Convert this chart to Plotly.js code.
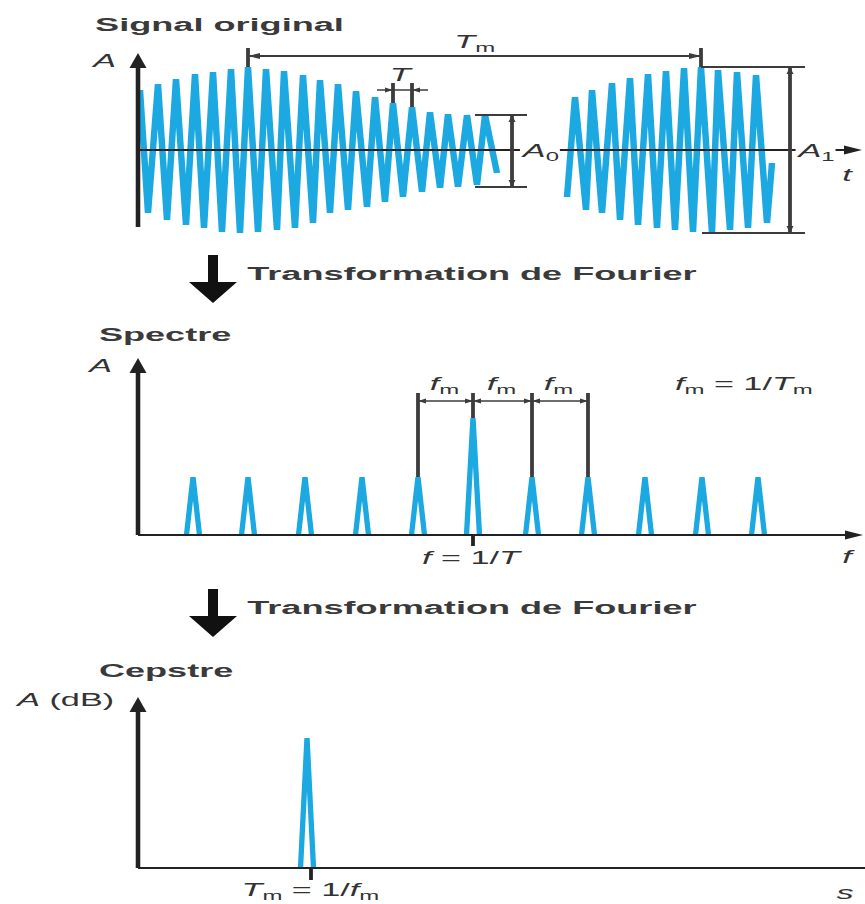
<!DOCTYPE html>
<html><head><meta charset="utf-8">
<script src="https://cdn.plot.ly/plotly-3.0.1.min.js"></script>
<style>
html,body{margin:0;padding:0;background:#fff;overflow:hidden;}
#wrap{width:865px;height:904px;overflow:hidden;}
#plot{width:455px;height:904px;transform:scaleX(1.9011);transform-origin:0 0;}
</style></head><body><div id="wrap"><div id="plot"></div></div>
<script>
// ---------- DATA ----------
// Signal original : zig-zag vertices of the two bursts (time, amplitude)
const burst1T = [2,10,20,29,38,48,57,66,75,84,93,102,110,120,128,139,146,157,165,175,182,192,200,210,218,229,237,247,255,265,274,284,292,302,310,320,329,339,347,359];
const burst1A = [60,-63,66,-70,71,-75,76,-78,78,-82,81,-83,83,-82,81,-80,79,-78,75,-73,70,-63,66,-60,59,-57,53,-52,47,-47,43,-42,38,-38,36,-37,35,-35,35,-23];
const burst2T = [429,437,448,454,464,474,482,492,500,510,519,528,537,546,555,563,574,580,592,599,610,618,629,634];
const burst2A = [-47,53,-60,60,-63,67,-70,72,-75,76,-78,79,-80,82,-82,83,-83,80,-80,78,-78,75,-73,-13];
// Spectre : line frequencies and amplitudes
const specF = [55,110,167,224,280,335,394,450,507,564,620];
const specA = [58,58,58,58,58,117,58,58,58,58,58];
const carrierIndex = 5;          // f = 1/T
// Cepstre
const cepQ = [169];
const cepA = [130];
const cepTick = 173;             // Tm = 1/fm
// Texts
const titles = ['Signal original', 'Spectre', 'Cepstre'];
const fourierText = 'Transformation de Fourier';

// ---------- STYLE ----------
const BLUE = '#1ca8e1', INK = '#222222', DIM = '#3c3c3c';
const FONT = 'Liberation Sans, Arial, sans-serif';
const FW = 865, FH = 904;

function line(xr, yr, x0, y0, x1, y1, color, width) {
  return {type:'line', xref:xr, yref:yr, x0, y0, x1, y1, line:{color, width}};
}
function head(xr, yr, x, y, dir, len, hw, color) {
  let p;
  if (dir === 'up') p = [[x,y],[x-hw,y-len],[x+hw,y-len]];
  else if (dir === 'down') p = [[x,y],[x-hw,y+len],[x+hw,y+len]];
  else if (dir === 'right') p = [[x,y],[x-len,y-hw],[x-len,y+hw]];
  else p = [[x,y],[x+len,y-hw],[x+len,y+hw]];
  return {type:'path', xref:xr, yref:yr, path:'M'+p.map(q=>q.join(',')).join('L')+'Z', fillcolor:color, line:{width:0}};
}
const P = (px, py) => (px/FW).toFixed(5) + ',' + (1-py/FH).toFixed(5);
function bigArrow(top) {
  const pts = [[208,top],[218,top],[218,top+27],[237,top+27],[213,top+48],[189,top+27],[208,top+27]];
  return {type:'path', xref:'paper', yref:'paper', path:'M'+pts.map(q=>P(q[0],q[1])).join('L')+'Z', fillcolor:'#111', line:{width:0}};
}
function txt(text, px, py, opt) {
  return Object.assign({xref:'paper', yref:'paper', x:px/FW, y:1-py/FH, text, showarrow:false,
    xanchor:'center', yanchor:'middle', font:{family:FONT, size:18, color:'#333'}}, opt||{});
}

// ---------- TRACES ----------
const spX = [], spY = [];
specF.forEach((f,i)=>{ spX.push(f-6.5, f, f+6.5, null); spY.push(0, specA[i], 0, null); });
const cpX = [], cpY = [];
cepQ.forEach((q,i)=>{ cpX.push(q-6.5, q, q+6.5, null); cpY.push(0, cepA[i], 0, null); });

const traces = [
  {x:burst1T, y:burst1A, xaxis:'x', yaxis:'y', mode:'lines', line:{color:BLUE, width:3.4}, hoverinfo:'skip'},
  {x:burst2T, y:burst2A, xaxis:'x', yaxis:'y', mode:'lines', line:{color:BLUE, width:3.4}, hoverinfo:'skip'},
  {x:spX, y:spY, xaxis:'x2', yaxis:'y2', mode:'lines', line:{color:BLUE, width:2.8}, hoverinfo:'skip'},
  {x:cpX, y:cpY, xaxis:'x3', yaxis:'y3', mode:'lines', line:{color:BLUE, width:2.8}, hoverinfo:'skip'}
];

// ---------- DIMENSIONS derived from data ----------
const i1 = burst1A.indexOf(Math.max(...burst1A)), i2 = burst2A.indexOf(Math.max(...burst2A));
const tA = burst1T[i1], tB = burst2T[i2];
const a1Top = Math.max(...burst2A), a1Bot = Math.min(...burst2A);
const tail = burst1A.slice(-5);
const a0Top = Math.max(...tail), a0Bot = Math.min(...tail);
const tp1 = burst1T[28], tp2 = burst1T[30];

const shapes = [
  // panel 1 axes
  line('x','y',0,-77,0,85,INK,2.4), head('x','y',0,97,'up',15,8.5,INK),
  line('x','y',0,0,708,0,INK,2.2), head('x','y',724,0,'right',18,4.5,INK),
  // Tm
  line('x','y',tA,a1Top,tA,102,DIM,2), line('x','y',tB,a1Top,tB,102,DIM,2),
  line('x','y',tA,94,tB,94,DIM,1.8), head('x','y',tA,94,'left',12,3,DIM), head('x','y',tB,94,'right',12,3,DIM),
  // A1
  line('x','y',tB,a1Top,667,a1Top,DIM,1.8), line('x','y',tB+1,a1Bot,667,a1Bot,DIM,1.8),
  line('x','y',652,a1Top,652,a1Bot,DIM,2), head('x','y',652,a1Top,'up',7,3.5,DIM), head('x','y',652,a1Bot,'down',7,3.5,DIM),
  // A0
  line('x','y',337,a0Top,389,a0Top,DIM,1.8), line('x','y',337,a0Bot,389,a0Bot,DIM,1.8),
  line('x','y',374,a0Top,374,a0Bot,DIM,2), head('x','y',374,a0Top,'up',7,3.5,DIM), head('x','y',374,a0Bot,'down',7,3.5,DIM),
  // T
  line('x','y',tp1,burst1A[28],tp1,67,DIM,2), line('x','y',tp2,burst1A[30],tp2,67,DIM,2),
  line('x','y',tp1-16,60,tp2+16,60,DIM,1.6), head('x','y',tp1,60,'right',8,2.5,DIM), head('x','y',tp2,60,'left',8,2.5,DIM),
  // panel 2 axes
  line('x2','y2',0,0,0,163,INK,2.4), head('x2','y2',0,177,'up',15,8.5,INK),
  line('x2','y2',0,0,708,0,INK,2.2), head('x2','y2',725,0,'right',18,4.5,INK),
  line('x2','y2',specF[carrierIndex],0,specF[carrierIndex],-11,INK,2),
  // panel 3 axes
  line('x3','y3',0,0,0,156,INK,2.4), head('x3','y3',0,171,'up',15,8.5,INK),
  line('x3','y3',0,0,735,0,INK,2.2),
  line('x3','y3',cepTick,0,cepTick,-12,INK,2),
  bigArrow(255), bigArrow(589)
];
// fm dimension lines on the spectrum
for (let k = carrierIndex-1; k <= carrierIndex+2; k++) {
  shapes.push(line('x2','y2',specF[k],specA[k],specF[k],142,DIM,2));
}
for (let k = carrierIndex-1; k <= carrierIndex+1; k++) {
  shapes.push(line('x2','y2',specF[k],134,specF[k+1],134,DIM,1.6));
  shapes.push(head('x2','y2',specF[k],134,'left',8,2.5,DIM));
  shapes.push(head('x2','y2',specF[k+1],134,'right',8,2.5,DIM));
}

const B = {family:FONT, size:19, color:'#3a3a3a', weight:'bold'};
const R = {family:FONT, size:18, color:'#333'};
const fmT = '<i>f</i><sub>m</sub>';
const annotations = [
  txt(titles[0], 92, 24, {xanchor:'left', font:B}),
  txt('<i>A</i>', 103, 61, {font:R}),
  txt('<i>T</i><sub>m</sub>', 475, 44, {font:R}),
  txt('<i>T</i>', 402, 75, {font:R}),
  txt('<i>A</i><sub>0</sub>', 539, 152, {font:R, bgcolor:'#fff', borderpad:0}),
  txt('<i>A</i><sub>1</sub>', 816, 152, {font:R, bgcolor:'#fff', borderpad:0}),
  txt('<i>t</i>', 847, 175, {font:R}),
  txt(fourierText, 243, 273, {xanchor:'left', font:B}),
  txt(titles[1], 95, 334, {xanchor:'left', font:B}),
  txt('<i>A</i>', 100, 366, {font:R}),
  txt(fmT, 445, 385, {font:R}),
  txt(fmT, 502, 385, {font:R}),
  txt(fmT, 559, 385, {font:R}),
  txt(fmT + ' = 1/<i>T</i><sub>m</sub>', 672, 385, {xanchor:'left', font:R}),
  txt('<i>f</i> = 1/<i>T</i>', 473, 558, {font:R}),
  txt('<i>f</i>', 849, 557, {font:R}),
  txt(fourierText, 243, 607, {xanchor:'left', font:B}),
  txt(titles[2], 95, 670, {xanchor:'left', font:B}),
  txt('<i>A</i> (dB)', 65, 700, {font:R}),
  txt('<i>T</i><sub>m</sub> = 1/' + fmT, 311, 891, {font:R}),
  txt('<i>s</i>', 845, 893, {font:R})
];

const ax = (dom, rng, anchor) => ({domain:dom, range:rng, anchor, visible:false, fixedrange:true});
const layout = {
  width:455, height:904, autosize:false, showlegend:false,
  margin:{l:0, r:0, t:0, b:0}, paper_bgcolor:'#fff', plot_bgcolor:'rgba(0,0,0,0)',
  xaxis: ax([0,1], [-138,727], 'y'),
  yaxis: ax([1-245/FH, 1], [-95,150], 'x'),
  xaxis2: ax([0,1], [-138,727], 'y2'),
  yaxis2: ax([1-580/FH, 1-320/FH], [-45,215], 'x2'),
  xaxis3: ax([0,1], [-138,727], 'y3'),
  yaxis3: ax([0, 1-650/FH], [-36,218], 'x3'),
  shapes, annotations
};
Plotly.newPlot('plot', traces, layout, {displayModeBar:false});
</script></body></html>
